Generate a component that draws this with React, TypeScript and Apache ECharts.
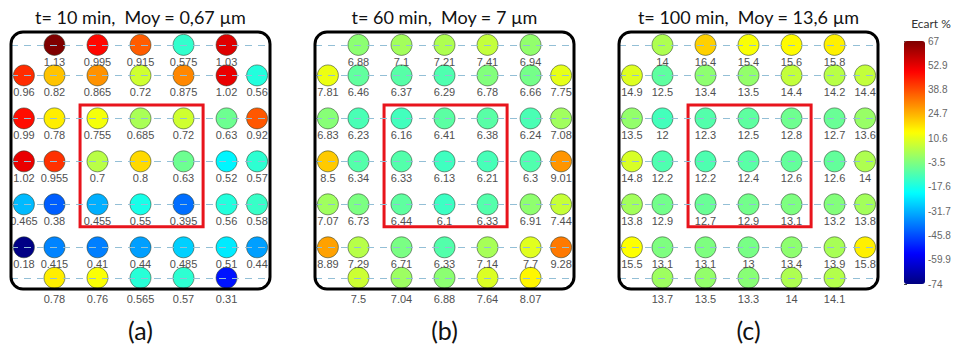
import React, { useEffect, useRef } from "react";
import * as echarts from "echarts";

// ---------- data ----------
const TITLES = [
  "t= 10 min,  Moy = 0,67 µm",
  "t= 60 min,  Moy = 7 µm",
  "t= 100 min,  Moy = 13,6 µm",
];
const PANEL_LABELS = ["(a)", "(b)", "(c)"];
const MEANS = [0.67, 7, 13.6];

// sensor grid positions (row / column coordinates, in pitch units)
const GRID_POS = [0, 0.71, 1.71, 2.71, 3.71, 4.71, 5.42];

const PANEL_A = [
  [1.13, 0.995, 0.915, 0.575, 1.03],
  [0.96, 0.82, 0.865, 0.72, 0.875, 1.02, 0.56],
  [0.99, 0.78, 0.755, 0.685, 0.72, 0.63, 0.92],
  [1.02, 0.955, 0.7, 0.8, 0.63, 0.52, 0.57],
  [0.465, 0.38, 0.455, 0.55, 0.395, 0.56, 0.58],
  [0.18, 0.415, 0.41, 0.44, 0.485, 0.51, 0.44],
  [0.78, 0.76, 0.565, 0.57, 0.31],
];
const PANEL_B = [
  [6.88, 7.1, 7.21, 7.41, 6.94],
  [7.81, 6.46, 6.37, 6.29, 6.78, 6.66, 7.75],
  [6.83, 6.23, 6.16, 6.41, 6.38, 6.24, 7.08],
  [8.5, 6.34, 6.33, 6.13, 6.21, 6.3, 9.01],
  [7.07, 6.73, 6.44, 6.1, 6.33, 6.91, 7.44],
  [8.89, 7.29, 6.71, 6.33, 7.14, 7.7, 9.28],
  [7.5, 7.04, 6.88, 7.64, 8.07],
];
const PANEL_C = [
  [14, 16.4, 15.4, 15.6, 15.8],
  [14.9, 12.5, 13.4, 13.5, 14.4, 14.2, 14.4],
  [13.5, 12, 12.3, 12.5, 12.8, 12.7, 13.6],
  [14.8, 12.2, 12.2, 12.4, 12.6, 12.6, 14],
  [13.8, 12.9, 12.7, 12.9, 13.1, 13.2, 13.8],
  [15.5, 13.1, 13.1, 13, 13.4, 13.9, 15.8],
  [13.7, 13.5, 13.3, 14, 14.1],
];
const PANELS = [PANEL_A, PANEL_B, PANEL_C];

const COLORBAR_TITLE = "Ecart %";
const COLORBAR_MIN = -74;
const COLORBAR_MAX = 67;
const COLORBAR_TICKS = [67, 52.9, 38.8, 24.7, 10.6, -3.5, -17.6, -31.7, -45.8, -59.9, -74];

// ---------- styles / layout ----------
const JET = ["#00007f", "#0000ff", "#007fff", "#00ffff", "#7fff7f", "#ffff00", "#ff7f00", "#ff0000", "#7f0000"];
const PANEL_STEP = 304;
const FRAME_X = 11;
const FRAME_Y = 32;
const FRAME_W = 259;
const FRAME_H = 257;
const AX_PAD = 0.3;
const RED_BOX = { x0: 1.305, x1: 4.165, y0: 1.4, y1: 4.23 };

function buildData(rows: number[][], mean: number) {
  const out: any[] = [];
  rows.forEach((row, ri) => {
    const cols = row.length === 5 ? [1, 2, 3, 4, 5] : [0, 1, 2, 3, 4, 5, 6];
    row.forEach((v, k) => {
      out.push({
        value: [GRID_POS[cols[k]], GRID_POS[ri], v, ((v - mean) / mean) * 100],
        label: { offset: [0, ri === rows.length - 1 ? 21 : 17] },
      });
    });
  });
  return out;
}

export default function App() {
  const ref = useRef<HTMLDivElement>(null);
  useEffect(() => {
    if (!ref.current) return;
    const chart = echarts.init(ref.current, undefined, { renderer: "svg" });
    const xMax = GRID_POS[6] + AX_PAD;
    const yMax = GRID_POS[6] + 0.26;

    const grids: any[] = [];
    const xAxes: any[] = [];
    const yAxes: any[] = [];
    const series: any[] = [];
    const graphics: any[] = [];

    PANELS.forEach((rows, i) => {
      const off = PANEL_STEP * i;
      grids.push({ left: FRAME_X + off, top: FRAME_Y, width: FRAME_W, height: FRAME_H });
      xAxes.push({ type: "value", gridIndex: i, min: -AX_PAD, max: xMax, show: false });
      yAxes.push({ type: "value", gridIndex: i, min: -AX_PAD, max: yMax, inverse: true, show: false });
      series.push({
        type: "scatter",
        xAxisIndex: i,
        yAxisIndex: i,
        symbolSize: 21,
        data: buildData(rows, MEANS[i]),
        itemStyle: { borderColor: "rgba(40,60,40,0.55)", borderWidth: 1, opacity: 1 },
        label: {
          show: true,
          position: "inside",
          formatter: (p: any) => String(p.value[2]),
          fontFamily: "Liberation Sans, Arial, sans-serif",
          fontSize: 11,
          color: "#505050",
        },
        markLine: {
          silent: true,
          symbol: ["none", "none"],
          label: { show: false },
          lineStyle: { type: [7, 6], color: "#93bfd6", width: 1 },
          data: GRID_POS.map((r) => ({ yAxis: r })),
        },
        markArea: {
          silent: true,
          itemStyle: { color: "rgba(0,0,0,0)", borderColor: "#e8141c", borderWidth: 3 },
          data: [[{ coord: [RED_BOX.x0, RED_BOX.y0] }, { coord: [RED_BOX.x1, RED_BOX.y1] }]],
        },
      });
      const cx = FRAME_X + off + FRAME_W / 2;
      graphics.push({
        type: "rect",
        z: 100,
        shape: { x: FRAME_X + off, y: FRAME_Y, width: FRAME_W, height: FRAME_H, r: 12 },
        style: { fill: "none", stroke: "#000", lineWidth: 3 },
        silent: true,
      });
      graphics.push({
        type: "text",
        x: cx,
        y: 17,
        style: {
          text: TITLES[i],
          fontFamily: "Lato, sans-serif",
          fontSize: 18,
          fill: "#111",
          align: "center",
          verticalAlign: "middle",
        },
      });
      graphics.push({
        type: "text",
        x: cx,
        y: 330,
        style: {
          text: PANEL_LABELS[i],
          fontFamily: "Lato, sans-serif",
          fontSize: 25,
          fill: "#111",
          align: "center",
          verticalAlign: "middle",
        },
      });
    });

    // colorbar axis
    grids.push({ left: 904, top: 41, width: 21, height: 243 });
    xAxes.push({ type: "value", gridIndex: 3, show: false, min: 0, max: 1 });
    yAxes.push({
      type: "value",
      gridIndex: 3,
      position: "right",
      min: COLORBAR_MIN,
      max: COLORBAR_MAX,
      axisLine: { show: false },
      splitLine: { show: false },
      axisTick: { show: true, customValues: COLORBAR_TICKS, length: 3, lineStyle: { color: "#444" } },
      axisLabel: {
        customValues: COLORBAR_TICKS,
        fontSize: 10,
        color: "#666",
        margin: 3,
        fontFamily: "Liberation Sans, Arial, sans-serif",
      },
    });
    graphics.push({
      type: "text",
      x: 931,
      y: 23,
      style: {
        text: COLORBAR_TITLE,
        fontFamily: "Lato, sans-serif",
        fontSize: 12,
        fill: "#333",
        align: "center",
        verticalAlign: "middle",
      },
    });

    chart.setOption({
      animation: false,
      backgroundColor: "#fff",
      grid: grids,
      xAxis: xAxes,
      yAxis: yAxes,
      series,
      visualMap: {
        type: "continuous",
        min: COLORBAR_MIN,
        max: COLORBAR_MAX,
        dimension: 3,
        seriesIndex: [0, 1, 2],
        inRange: { color: JET },
        calculable: false,
        left: 904,
        top: 41,
        itemWidth: 21,
        itemHeight: 243,
        padding: 0,
        hoverLink: false,
      },
      graphic: graphics,
    });
    return () => chart.dispose();
  }, []);
  return <div ref={ref} style={{ position: "absolute", left: 0, top: 0, width: 956, height: 348 }} />;
}
